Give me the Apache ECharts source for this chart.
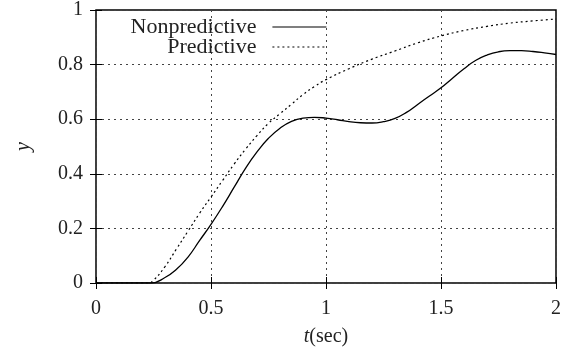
<!DOCTYPE html>
<html>
<head>
<meta charset="utf-8">
<script src="https://cdn.jsdelivr.net/npm/echarts@6/dist/echarts.min.js"></script>
<style>
  html, body { margin: 0; padding: 0; background: #fff; }
  #chart { width: 570px; height: 354px; }
</style>
</head>
<body>
<div id="chart"></div>
<script>
// values
var tNonpred = [0, 0.2, 0.24, 0.3, 0.35, 0.4, 0.45, 0.5, 0.55, 0.6, 0.65, 0.7, 0.75, 0.8, 0.85, 0.9, 0.95, 1.0, 1.05, 1.1, 1.15, 1.2, 1.25, 1.3, 1.35, 1.4, 1.45, 1.5, 1.55, 1.6, 1.65, 1.7, 1.75, 1.8, 1.85, 1.9, 1.95, 2.0];
var yNonpred = [0, 0, 0, 0.02, 0.05, 0.095, 0.155, 0.215, 0.28, 0.35, 0.42, 0.48, 0.53, 0.567, 0.592, 0.604, 0.607, 0.604, 0.598, 0.591, 0.587, 0.586, 0.591, 0.603, 0.625, 0.655, 0.685, 0.715, 0.75, 0.785, 0.815, 0.835, 0.847, 0.851, 0.851, 0.848, 0.843, 0.837];
var tPred = [0, 0.2, 0.23, 0.25, 0.3, 0.35, 0.4, 0.45, 0.5, 0.55, 0.6, 0.65, 0.7, 0.75, 0.8, 0.85, 0.9, 0.95, 1.0, 1.1, 1.2, 1.3, 1.4, 1.5, 1.6, 1.7, 1.8, 1.9, 2.0];
var yPred = [0, 0, 0, 0.01, 0.06, 0.125, 0.19, 0.255, 0.315, 0.375, 0.435, 0.49, 0.54, 0.585, 0.62, 0.655, 0.69, 0.72, 0.745, 0.785, 0.82, 0.85, 0.88, 0.905, 0.925, 0.94, 0.952, 0.96, 0.967];
var seriesNames = ['Nonpredictive', 'Predictive'];

var font = 'Liberation Serif';

function pairs(xs, ys) {
  var out = [];
  for (var i = 0; i < xs.length; i++) {
    out.push([xs[i], ys[i]]);
  }
  return out;
}

var chart = echarts.init(document.getElementById('chart'));

var gridLine = {
  show: true,
  lineStyle: { color: '#444', width: 1, type: [2, 4] }
};
var insideTick = { show: true, inside: true, length: 6, lineStyle: { color: '#000', width: 1 } };

// one legend per row so that both icons line up on the right
function legendAt(name, top) {
  return {
    data: [name],
    right: 238, top: top,
    orient: 'horizontal',
    itemWidth: 54, itemHeight: 10, align: 'right',
    itemStyle: { opacity: 0 }, // hide the dot, keep the line
    lineStyle: { width: 1.2 },
    formatter: function (n) { return n + '  '; },
    textStyle: { fontFamily: font, fontSize: 22, color: '#222' }
  };
}

var option = {
  animation: false,
  backgroundColor: '#fff',
  grid: {
    left: 96, right: 14, top: 10, bottom: 71,
    show: true, borderColor: '#000', borderWidth: 1.5
  },
  legend: [legendAt(seriesNames[0], 11), legendAt(seriesNames[1], 31)],
  xAxis: [
    {
      type: 'value', min: 0, max: 2, interval: 0.5,
      name: '{i|t}(sec)', nameLocation: 'middle', nameGap: 44,
      nameTextStyle: {
        fontFamily: font, fontSize: 20, color: '#222',
        rich: { i: { fontFamily: font, fontStyle: 'italic', fontSize: 20, color: '#222' } }
      },
      axisLine: { show: false },
      axisTick: insideTick,
      splitLine: gridLine,
      axisLabel: { fontFamily: font, fontSize: 20, color: '#222', margin: 16 }
    },
    {
      type: 'value', min: 0, max: 2, interval: 0.5, position: 'top',
      axisLine: { show: false }, axisTick: insideTick,
      axisLabel: { show: false }, splitLine: { show: false }
    }
  ],
  yAxis: [
    {
      type: 'value', min: 0, max: 1, interval: 0.2,
      name: 'y', nameLocation: 'middle', nameGap: 62, nameRotate: 90,
      nameTextStyle: { fontFamily: font, fontStyle: 'italic', fontSize: 20, color: '#222' },
      axisLine: { show: false },
      axisTick: insideTick,
      splitLine: gridLine,
      axisLabel: { fontFamily: font, fontSize: 20, color: '#222', margin: 13 }
    },
    {
      type: 'value', min: 0, max: 1, interval: 0.2, position: 'right',
      axisLine: { show: false }, axisTick: insideTick,
      axisLabel: { show: false }, splitLine: { show: false }
    }
  ],
  series: [
    {
      name: seriesNames[0],
      type: 'line',
      data: pairs(tNonpred, yNonpred),
      smooth: 0.5,
      symbol: 'none',
      lineStyle: { color: '#000', width: 1.3, type: 'solid' },
      itemStyle: { color: '#000' }
    },
    {
      name: seriesNames[1],
      type: 'line',
      data: pairs(tPred, yPred),
      smooth: 0.5,
      symbol: 'none',
      lineStyle: { color: '#000', width: 1.2, type: [2, 3] },
      itemStyle: { color: '#000' }
    }
  ]
};

option && chart.setOption(option);
</script>
</body>
</html>
